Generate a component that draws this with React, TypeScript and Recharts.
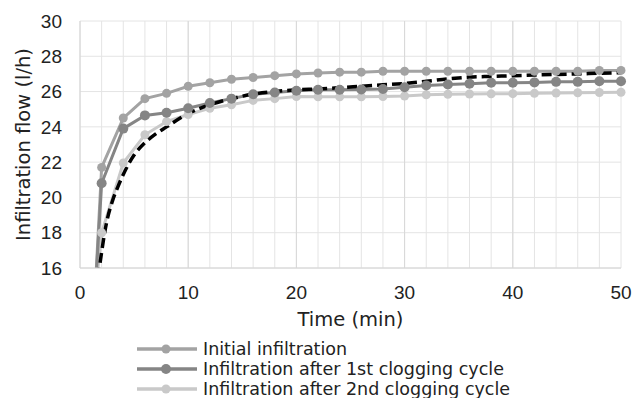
import React from "react";
import { CartesianGrid, Label, Legend, Line, LineChart, ReferenceLine, XAxis, YAxis } from "recharts";

// time (min) of the measured points
const times = [1, 2, 4, 6, 8, 10, 12, 14, 16, 18, 20, 22, 24, 26, 28, 30, 32, 34, 36, 38, 40, 42, 44, 46, 48, 50];
const initialFlow = [10, 21.7, 24.5, 25.6, 25.9, 26.3, 26.5, 26.7, 26.8, 26.9, 27.0, 27.05, 27.1, 27.1, 27.15, 27.15, 27.15, 27.15, 27.15, 27.15, 27.15, 27.15, 27.15, 27.15, 27.2, 27.2];
const firstCycleFlow = [10.4, 20.8, 23.9, 24.65, 24.8, 25.05, 25.35, 25.6, 25.85, 25.95, 26.05, 26.1, 26.1, 26.12, 26.15, 26.25, 26.35, 26.4, 26.45, 26.5, 26.5, 26.52, 26.55, 26.55, 26.58, 26.58];
const secondCycleFlow = [12, 18.0, 21.95, 23.55, 24.3, 24.7, 25.05, 25.25, 25.5, 25.6, 25.72, 25.7, 25.7, 25.7, 25.72, 25.75, 25.82, 25.85, 25.86, 25.87, 25.88, 25.9, 25.92, 25.93, 25.95, 25.96];

// fitted curve (dashed)
const fitTimes = [1.6, 1.8, 2, 2.25, 2.5, 3, 3.5, 4, 5, 6, 7, 8, 10, 12, 14, 16, 18, 20, 22, 24, 26, 28, 30, 32, 34, 36, 38, 40, 42, 44, 46, 48, 50];
const fitFlow = [14.6, 16.0, 16.9, 17.9, 18.7, 19.8, 20.6, 21.3, 22.4, 23.1, 23.6, 24.0, 24.75, 25.25, 25.6, 25.85, 26.0, 26.1, 26.15, 26.22, 26.3, 26.38, 26.46, 26.58, 26.72, 26.82, 26.86, 26.9, 26.94, 26.97, 27.0, 27.04, 27.07];

const xTicks = [0, 2, 4, 6, 8, 10, 12, 14, 16, 18, 20, 22, 24, 26, 28, 30, 32, 34, 36, 38, 40, 42, 44, 46, 48, 50];
const yTicks = [16, 18, 20, 22, 24, 26, 28, 30];
const majorX = [10, 20, 30, 40];

const series = [
  { key: "initial", name: "Initial infiltration", values: initialFlow, color: "#a3a3a3", r: 4.5 },
  { key: "first", name: "Infiltration after 1st clogging cycle", values: firstCycleFlow, color: "#858585", r: 5 },
  { key: "second", name: "Infiltration after 2nd clogging cycle", values: secondCycleFlow, color: "#c9c9c9", r: 4.5 },
];

const toRows = (xs: number[], ys: number[]) => xs.map((t, i) => ({ t, v: ys[i] }));

const tickFont = { fontSize: 19, fill: "#222", fontFamily: "Liberation Sans, Arial, sans-serif" };
const titleFont = "DejaVu Sans, sans-serif";

function LegendBox() {
  return (
    <div style={{ height: 70, paddingTop: 11, paddingLeft: 137, boxSizing: "border-box", fontFamily: titleFont, fontSize: 17.5, color: "#222" }}>
      {series.map((s) => (
        <div key={s.key} style={{ display: "flex", alignItems: "center", height: 20 }}>
          <svg width={60} height={14} style={{ marginRight: 6 }}>
            <line x1={0} y1={7} x2={60} y2={7} stroke={s.color} strokeWidth={3.5} />
            <circle cx={29} cy={7} r={s.r} fill={s.color} />
          </svg>
          <span style={{ lineHeight: "20px" }}>{s.name}</span>
        </div>
      ))}
    </div>
  );
}

export default function App() {
  return (
    <div style={{ position: "absolute", left: 0, top: 0, background: "#fff" }}>
      <LineChart width={633} height={398} margin={{ top: 21, right: 12, left: 0, bottom: 0 }}>
        <CartesianGrid stroke="#e4e4e4" strokeWidth={1} />
        {majorX.map((x) => (
          <ReferenceLine key={x} x={x} stroke="#d8d8d8" strokeWidth={1} />
        ))}
        <XAxis
          dataKey="t"
          type="number"
          domain={[0, 50]}
          ticks={xTicks}
          interval={0}
          tickFormatter={(v: number) => (v % 10 === 0 ? String(v) : "")}
          tickLine={false}
          tickSize={0}
          tickMargin={18}
          axisLine={{ stroke: "#d4d4d4" }}
          tick={tickFont}
          height={60}
          allowDecimals
        >
          <Label
            content={(props: any) => {
              const vb = props.viewBox;
              return (
                <text x={vb.x + vb.width / 2} y={326} textAnchor="middle" fontFamily={titleFont} fontSize={19.5} fill="#222">
                  Time (min)
                </text>
              );
            }}
          />
        </XAxis>
        <YAxis
          type="number"
          domain={[16, 30]}
          ticks={yTicks}
          interval={0}
          allowDataOverflow
          tickLine={false}
          tickSize={0}
          tickMargin={18}
          axisLine={{ stroke: "#d4d4d4" }}
          tick={tickFont}
          width={80}
        >
          <Label
            content={(props: any) => {
              const vb = props.viewBox;
              const cy = vb.y + vb.height / 2;
              return (
                <text x={30} y={cy} transform={`rotate(-90, 30, ${cy})`} textAnchor="middle" fontFamily={titleFont} fontSize={19.5} fill="#222">
                  Infiltration flow (l/h)
                </text>
              );
            }}
          />
        </YAxis>
        <Legend verticalAlign="bottom" align="left" content={() => <LegendBox />} />
        {[series[0], series[2], series[1]].map((s) => (
          <Line
            key={s.key}
            data={toRows(times, s.values)}
            dataKey="v"
            name={s.name}
            type="linear"
            stroke={s.color}
            strokeWidth={3}
            dot={{ r: s.r, fill: s.color, stroke: "none" }}
            activeDot={false}
            isAnimationActive={false}
          />
        ))}
        <Line
          data={toRows(fitTimes, fitFlow)}
          dataKey="v"
          name="fit"
          type="monotone"
          stroke="#000"
          strokeWidth={3.5}
          strokeDasharray="10 5"
          dot={false}
          activeDot={false}
          isAnimationActive={false}
          legendType="none"
        />
      </LineChart>
    </div>
  );
}
